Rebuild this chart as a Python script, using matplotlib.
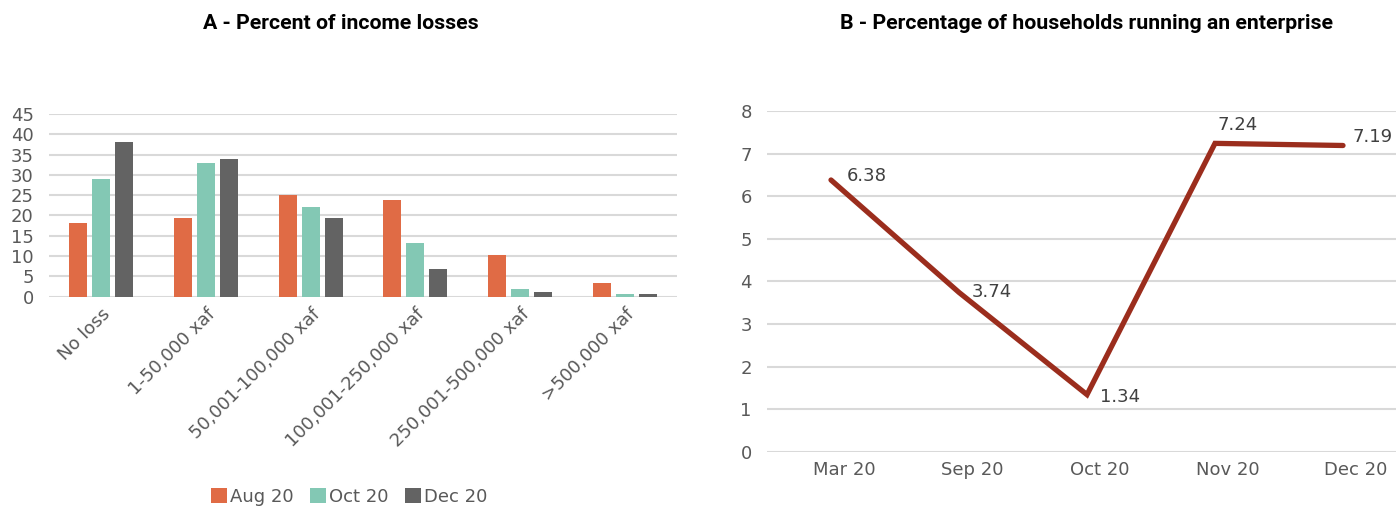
import matplotlib
matplotlib.use('Agg')
import matplotlib.pyplot as plt
import matplotlib.transforms as mtransforms
import numpy as np

plt.rcParams['font.family'] = ['DejaVu Sans']
plt.rcParams['font.size'] = 13

# ---- data: panel A ----
loss_cats = ['No loss', '1-50,000 xaf', '50,001-100,000 xaf', '100,001-250,000 xaf',
             '250,001-500,000 xaf', '>500,000 xaf']
aug20 = [18.1, 19.5, 25.0, 23.8, 10.3, 3.4]
oct20 = [29.0, 32.9, 22.0, 13.3, 2.0, 0.7]
dec20 = [38.2, 33.8, 19.5, 6.7, 1.2, 0.6]
series_names = ['Aug 20', 'Oct 20', 'Dec 20']

# ---- data: panel B ----
months = ['Mar 20', 'Sep 20', 'Oct 20', 'Nov 20', 'Dec 20']
enterprise = [6.38, 3.74, 1.34, 7.24, 7.19]

bar_colors = ['#E06B45', '#83C8B4', '#636363']
line_color = '#9B2D1D'
grid_color = '#D9D9D9'
text_color = '#595959'
title_font = ['Roboto', 'DejaVu Sans']

fig = plt.figure(figsize=(13.96, 5.07), dpi=100)

# ============================================================
# A - bars
# ============================================================
ax1 = fig.add_axes([0.0351, 0.4148, 0.450, 0.3604])
x = np.arange(len(loss_cats))
step = 0.22
width = 0.172
handles = []
for i, (vals, name) in enumerate(zip([aug20, oct20, dec20], series_names)):
    b = ax1.bar(x + (i - 1) * step, vals, width, color=bar_colors[i], label=name, zorder=3)
    handles.append(b)

ax1.set_xlim(-0.5, len(loss_cats) - 0.5)
ax1.set_ylim(0, 45)
ax1.set_yticks(np.arange(0, 46, 5))
ax1.grid(axis='y', color=grid_color, linewidth=1.5, zorder=0)
ax1.set_axisbelow(True)
for s in ax1.spines.values():
    s.set_visible(False)
ax1.tick_params(length=0, labelcolor=text_color, labelsize=13)
ax1.tick_params(axis='y', pad=11)
ax1.set_xticks(x)
ax1.set_xticklabels(loss_cats, rotation=45, ha='right', rotation_mode='anchor', fontsize=13)
ax1.tick_params(axis='x', pad=6)

fig.text(341 / 1396, 1 - 23.5 / 507, 'A - Percent of income losses', ha='center', va='center',
         fontsize=15.3, fontweight='bold', color='black', family=title_font)

fig.legend(handles=handles, labels=series_names, loc='center', bbox_to_anchor=(349 / 1396, 10 / 507),
           ncol=3, frameon=False, fontsize=13, handlelength=0.9, handleheight=0.9,
           handletextpad=0.15, columnspacing=0.9, labelcolor=text_color)

# ============================================================
# B - line
# ============================================================
ax2 = fig.add_axes([767 / 1396, 55.3 / 507, 640 / 1396, 340.7 / 507])
xm = np.arange(len(months))
ax2.plot(xm, enterprise, color=line_color, linewidth=3.8, solid_capstyle='round',
         solid_joinstyle='miter', zorder=3)
ax2.set_xlim(-0.5, len(months) - 0.5)
ax2.set_ylim(0, 8)
ax2.set_yticks(np.arange(0, 9, 1))
ax2.grid(axis='y', color=grid_color, linewidth=1.5, zorder=0)
for s in ax2.spines.values():
    s.set_visible(False)
ax2.tick_params(length=0, labelcolor=text_color, labelsize=13)
ax2.tick_params(axis='y', pad=11)
ax2.set_xticks(xm)
ax2.set_xticklabels(months, fontsize=13)
ax2.tick_params(axis='x', pad=7)
shift = mtransforms.ScaledTranslation(13 / 100, 0, fig.dpi_scale_trans)
for lbl in ax2.get_xticklabels():
    lbl.set_transform(lbl.get_transform() + shift)

# label offsets (points) for each data label
label_offsets = [(11, 3), (9, 0), (9, -2), (2, 13), (7, 6)]
for xi, v, off in zip(xm, enterprise, label_offsets):
    ax2.annotate(f'{v:.2f}', xy=(xi, v), xytext=off, textcoords='offset points',
                 ha='left', va='center', fontsize=13, color='#404040')

fig.text(1086 / 1396, 1 - 23.5 / 507, 'B - Percentage of households running an enterprise',
         ha='center', va='center', fontsize=15.3, fontweight='bold', color='black', family=title_font)

fig.savefig('out.png', dpi=100)
